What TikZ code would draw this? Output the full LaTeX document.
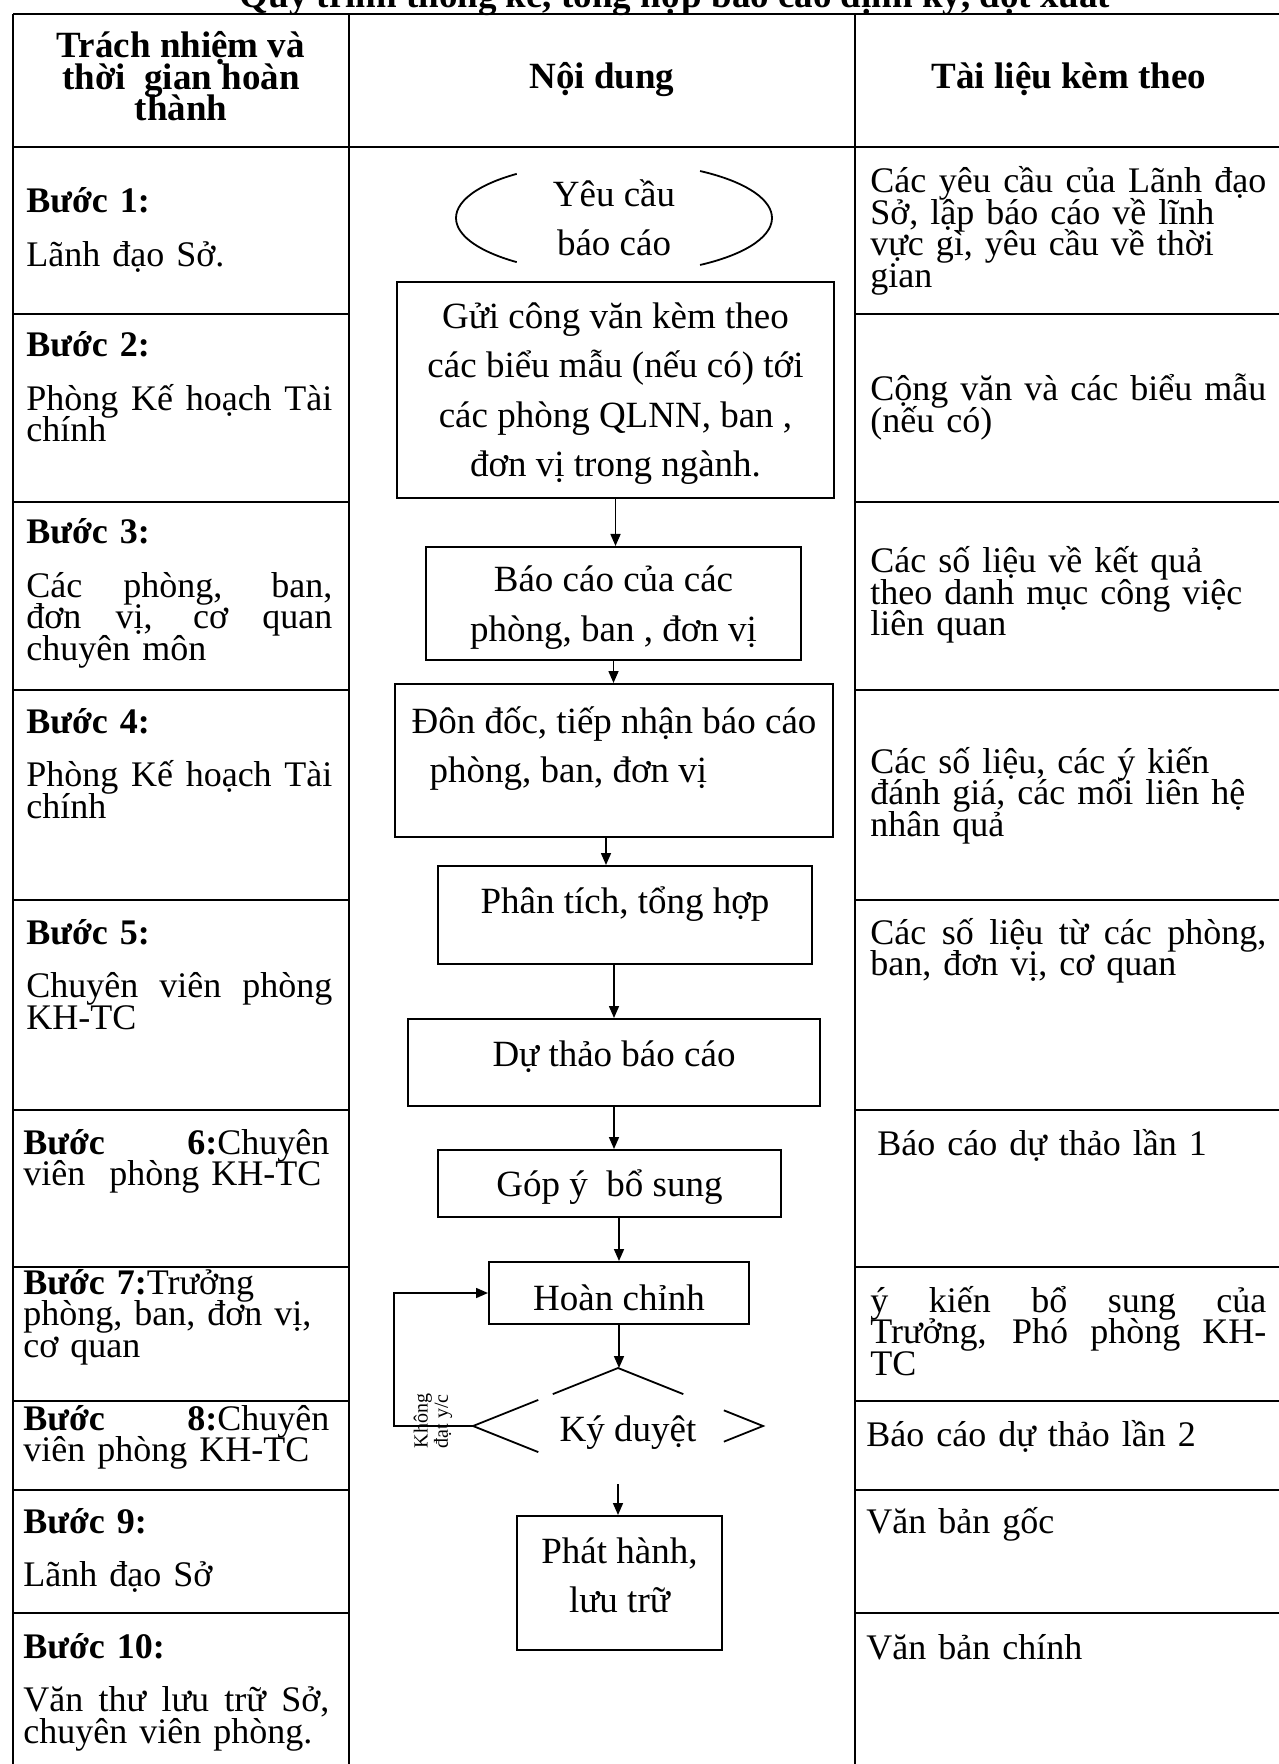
\documentclass[tikz,border=0pt]{standalone}
\usepackage{fontspec}
\setmainfont{Liberation Serif}
\usetikzlibrary{arrows.meta}
\usetikzlibrary{calc}
\usetikzlibrary{shapes.geometric}

\newcommand{\cellfont}{\fontsize{18pt}{15.75pt}\selectfont\lineskiplimit=-20pt\relax}
\newcommand{\headfont}{\fontsize{18.5pt}{15.75pt}\selectfont\bfseries\lineskiplimit=-20pt\relax}
\newcommand{\boxfont}{\fontsize{18.5pt}{24.75pt}\selectfont}
\newcommand{\jleft}[1]{\makebox[153pt][s]{\spaceskip=0pt\xspaceskip=0pt #1}}
\newcommand{\jright}[1]{\makebox[198pt][s]{\spaceskip=0pt\xspaceskip=0pt #1}}
\newcommand{\lowered}[2]{\raisebox{-#1}[\height][\depth]{#2}}

\begin{document}
\begin{tikzpicture}[x=0.5pt, y=-0.5pt,
    rule/.style={line width=1.1pt},
    cellL/.style={anchor=base west, inner sep=0pt, text width=160pt, align=left, font=\cellfont},
    cellR/.style={anchor=base west, inner sep=0pt, text width=205pt, align=left, font=\cellfont},
    head/.style={anchor=base, inner sep=0pt, align=center, font=\headfont},
    stepbox/.style={draw, line width=1pt, inner sep=0pt, align=center, font=\boxfont},
    arr/.style={line width=0.8pt, -{Triangle[length=6pt,width=5pt]}},
    seg/.style={line width=0.9pt}]
\useasboundingbox (0,0) rectangle (1278,1764);

% title, cut at the top edge
\node[head] (title) at (675,8) {Quy trình thống kê, tổng hợp báo cáo định kỳ, đột xuất};

% table frame
\draw[rule] (13,14) -- (1280,14);
\draw[rule] (13,147) -- (1280,147);
\draw[rule] (13,14) -- (13,1766);
\draw[rule] (349,14) -- (349,1766);
\draw[rule] (855,14) -- (855,1766);
\draw[rule] (13,314) -- (349,314) (855,314) -- (1280,314);
\draw[rule] (13,502) -- (349,502) (855,502) -- (1280,502);
\draw[rule] (13,690) -- (349,690) (855,690) -- (1280,690);
\draw[rule] (13,900) -- (349,900) (855,900) -- (1280,900);
\draw[rule] (13,1110) -- (349,1110) (855,1110) -- (1280,1110);
\draw[rule] (13,1267) -- (349,1267) (855,1267) -- (1280,1267);
\draw[rule] (13,1401) -- (349,1401) (855,1401) -- (1280,1401);
\draw[rule] (13,1490) -- (349,1490) (855,1490) -- (1280,1490);
\draw[rule] (13,1613) -- (349,1613) (855,1613) -- (1280,1613);

% header row
\node[head] (hresp) at (181,121) {Trách nhiệm và\\ thời\ \ gian hoàn\\ thành};
\node[head] (hcont) at (602,89) {Nội dung};
\node[head] (hdocs) at (1069,89) {Tài liệu kèm theo};

% left column
\node[cellL] (s1) at (26,213) {\textbf{Bước 1:}\\[11pt] Lãnh đạo Sở.};
\node[cellL] (s2) at (26,357) {\textbf{Bước 2:}\\[11pt] \jleft{Phòng Kế hoạch Tài}\\ chính};
\node[cellL] (s3) at (26,544) {\textbf{Bước 3:}\\[11pt] \jleft{Các phòng, ban,}\\ \jleft{đơn vị, cơ quan}\\ chuyên môn};
\node[cellL] (s4) at (26,733) {\textbf{Bước 4:}\\[11pt] \jleft{Phòng Kế hoạch Tài}\\ chính};
\node[cellL] (s5) at (26,944) {\textbf{Bước 5:}\\[11pt] \jleft{Chuyên viên phòng}\\ KH-TC};
\node[cellL] (s6) at (23,1154) {\jleft{\textbf{Bước 6:}Chuyên}\\ viên\ \ phòng KH-TC};
\node[cellL] (s7) at (23,1294) {\textbf{Bước 7:}Trưởng\\ phòng, ban, đơn vị,\\ cơ quan};
\node[cellL] (s8) at (23,1430) {\jleft{\textbf{Bước 8:}Chuyên}\\ viên phòng KH-TC};
\node[cellL] (s9) at (23,1533) {\textbf{Bước 9:}\\[11pt] Lãnh đạo Sở};
\node[cellL] (s10) at (23,1658) {\textbf{Bước 10:}\\[11pt] \jleft{Văn thư lưu trữ Sở,}\\ chuyên viên phòng.};

% right column
\node[cellR] (d1) at (870,193) {\jright{Các yêu cầu của Lãnh đạo}\\ Sở, lập báo cáo về lĩnh\\ vực gì, yêu cầu về thời\\ gian};
\node[cellR] (d2) at (870,401) {\jright{Cộng văn và các biểu mẫu}\\ (nếu có)};
\node[cellR] (d3) at (870,573) {Các số liệu về kết quả\\ theo danh mục công việc\\ liên quan};
\node[cellR] (d4) at (870,773) {Các số liệu, các ý kiến\\ đánh giá, các mối liên hệ\\ nhân quả};
\node[cellR] (d5) at (870,944) {\jright{Các số liệu từ các phòng,}\\ ban, đơn vị, cơ quan};
\node[cellR] (d6) at (877,1155) {Báo cáo dự thảo lần 1};
\node[cellR] (d7) at (870,1312) {\jright{ý kiến bổ sung của}\\ \jright{Trưởng, Phó phòng KH-}\\ TC};
\node[cellR] (d8) at (866,1446) {Báo cáo dự thảo lần 2};
\node[cellR] (d9) at (866,1533) {Văn bản gốc};
\node[cellR] (d10) at (866,1659) {Văn bản chính};

% flow chart
\node[align=center, inner sep=0pt, font=\boxfont] (req) at (614,218) {Yêu cầu\\ báo cáo};
\draw[seg] ([shift={(128:79pt and 28pt)}]req.center) arc[start angle=128, end angle=232, x radius=79pt, y radius=28pt];
\draw[seg] ([shift={(-57:79pt and 28pt)}]req.center) arc[start angle=-57, end angle=57, x radius=79pt, y radius=28pt];

\node[stepbox, text depth=0.5pt, minimum width=218.5pt, minimum height=108pt] (send) at (615.5,390) {Gửi công văn kèm theo\\ các biểu mẫu (nếu có) tới\\ các phòng QLNN, ban ,\\ đơn vị trong ngành.};
\node[stepbox, text depth=0pt, minimum width=187.5pt, minimum height=56.5pt] (reply) at (613.5,603.5) {Báo cáo của các\\ phòng, ban , đơn vị};
\node[stepbox, align=left, text depth=16pt, minimum width=219pt, minimum height=76.5pt] (urge) at (614,760.5) {Đôn đốc, tiếp nhận báo cáo\\ \hspace*{9pt}phòng, ban, đơn vị};
\node[stepbox, text depth=15pt, minimum width=187pt, minimum height=49pt] (sum) at (625,915) {Phân tích, tổng hợp};
\node[stepbox, text depth=9pt, minimum width=206pt, minimum height=43.5pt] (draft) at (614,1062.5) {Dự thảo báo cáo};
\node[stepbox, text depth=0.6pt, minimum width=171.5pt, minimum height=33.5pt] (note) at (609.5,1183.5) {Góp ý\ \ bổ sung};
\node[stepbox, minimum width=130pt, minimum height=31pt] (fin) at (619,1293) {\lowered{2.25pt}{Hoàn chỉnh}};
\node[diamond, aspect=2.5, inner sep=0pt, outer sep=0pt, minimum width=145pt, minimum height=58pt, font=\boxfont] (sign) at (618,1426) {\lowered{3.5pt}{\hspace*{10pt}Ký duyệt}};
\node[stepbox, text depth=8pt, minimum width=102.5pt, minimum height=67pt] (issue) at (619.5,1583) {Phát hành,\\ lưu trữ};

% broken outline of the decision
\draw[seg] (sign.west) -- ($(sign.west)!0.45!(sign.north)$);
\draw[seg] ($(sign.west)!0.55!(sign.north)$) -- (sign.north) -- ($(sign.north)!0.45!(sign.east)$);
\draw[seg] ($(sign.north)!0.73!(sign.east)$) -- (sign.east) -- ($(sign.east)!0.27!(sign.south)$);
\draw[seg] (sign.west) -- ($(sign.west)!0.45!(sign.south)$);

% connectors
\draw[arr] (send.south) -- (send.south |- reply.north);
\draw[arr] (reply.south) -- (reply.south |- urge.north);
\draw[arr] ([xshift=-4pt]urge.south) -- ([xshift=-4pt]urge.south |- sum.north);
\draw[arr] (draft.north |- sum.south) -- (draft.north);
\draw[arr] (draft.south) -- (draft.south |- note.north);
\draw[arr] (note.south -| fin.north) -- (fin.north);
\draw[arr] (fin.south) -- (fin.south |- sign.north);
\draw[arr] (sign.south) -- (sign.south |- issue.north);
\coordinate (loop) at (394,1426);
\draw[arr] (sign.west) -- (loop) |- (fin.west);
\node[rotate=90, align=left, inner sep=0pt, font=\fontsize{10pt}{9pt}\selectfont] (fail) at (433,1421) {Không\\ đạt y/c};
\end{tikzpicture}
\end{document}
